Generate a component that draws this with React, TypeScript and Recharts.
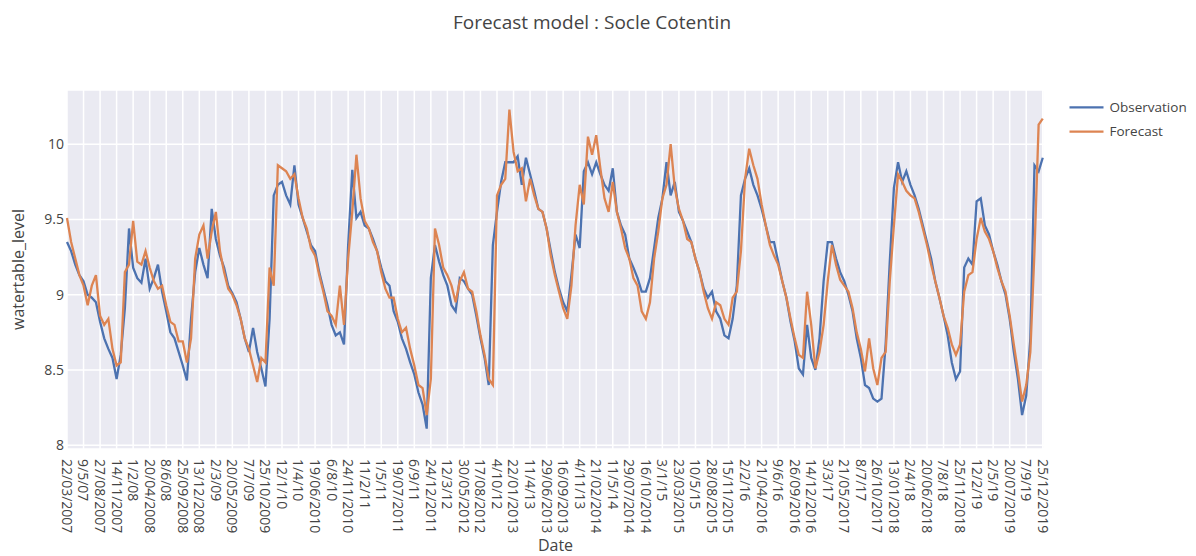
import React from 'react';
import { LineChart, Line, XAxis, YAxis, CartesianGrid, Legend, Label } from 'recharts';

const FONT = '"Open Sans", "Noto Sans", sans-serif';
const TXT = '#444444';
const BLUE = '#4C72B0';
const ORANGE = '#DD8452';

const tickLabels = [
  '22/03/2007', '9/5/07', '27/08/2007', '14/11/2007', '1/2/08', '20/04/2008', '8/6/08', '25/09/2008', '13/12/2008', '2/3/09',
  '20/05/2009', '7/7/09', '25/10/2009', '12/1/10', '1/4/10', '19/06/2010', '6/8/10', '24/11/2010', '11/2/11', '1/5/11',
  '19/07/2011', '6/9/11', '24/12/2011', '12/3/12', '30/05/2012', '17/08/2012', '4/10/12', '22/01/2013', '11/4/13', '29/06/2013',
  '16/09/2013', '4/11/13', '21/02/2014', '11/5/14', '29/07/2014', '16/10/2014', '3/1/15', '23/03/2015', '10/5/15', '28/08/2015',
  '15/11/2015', '2/2/16', '21/04/2016', '9/6/16', '26/09/2016', '14/12/2016', '3/3/17', '21/05/2017', '8/7/17', '26/10/2017',
  '13/01/2018', '2/4/18', '20/06/2018', '7/8/18', '25/11/2018', '12/2/19', '2/5/19', '20/07/2019', '7/9/19', '25/12/2019',
];

// number of samples between two labelled categories
const POINTS_PER_LABEL = 4;

const seriesNames = ['Observation', 'Forecast'];

const observation = [
  9.35, 9.29, 9.20, 9.13, 9.09, 9.00, 8.98, 8.95, 8.82, 8.71,
  8.64, 8.58, 8.44, 8.60, 8.91, 9.44, 9.18, 9.11, 9.08, 9.24,
  9.04, 9.11, 9.20, 9.02, 8.89, 8.75, 8.71, 8.62, 8.53, 8.43,
  8.84, 9.15, 9.31, 9.20, 9.11, 9.57, 9.37, 9.26, 9.18, 9.06,
  9.01, 8.95, 8.84, 8.71, 8.62, 8.78, 8.62, 8.51, 8.39, 8.84,
  9.66, 9.73, 9.75, 9.66, 9.60, 9.86, 9.60, 9.51, 9.42, 9.33,
  9.29, 9.15, 9.04, 8.93, 8.80, 8.73, 8.75, 8.67, 9.33, 9.83,
  9.51, 9.55, 9.46, 9.44, 9.37, 9.29, 9.18, 9.09, 9.06, 8.89,
  8.82, 8.71, 8.64, 8.55, 8.47, 8.35, 8.27, 8.11, 9.11, 9.33,
  9.22, 9.13, 9.06, 8.93, 8.89, 9.11, 9.09, 9.04, 9.00, 8.86,
  8.71, 8.58, 8.40, 9.33, 9.55, 9.75, 9.88, 9.88, 9.88, 9.92,
  9.73, 9.91, 9.80, 9.69, 9.57, 9.55, 9.44, 9.29, 9.15, 9.04,
  8.95, 8.89, 9.13, 9.40, 9.31, 9.82, 9.88, 9.80, 9.88, 9.80,
  9.73, 9.69, 9.84, 9.55, 9.46, 9.40, 9.24, 9.18, 9.11, 9.02,
  9.02, 9.11, 9.31, 9.51, 9.64, 9.88, 9.66, 9.75, 9.55, 9.49,
  9.42, 9.35, 9.24, 9.15, 9.04, 8.98, 9.02, 8.89, 8.84, 8.73,
  8.71, 8.84, 9.06, 9.66, 9.77, 9.84, 9.73, 9.66, 9.57, 9.46,
  9.35, 9.35, 9.22, 9.09, 8.98, 8.82, 8.69, 8.51, 8.47, 8.80,
  8.58, 8.50, 8.71, 9.09, 9.35, 9.35, 9.24, 9.15, 9.09, 9.00,
  8.89, 8.71, 8.58, 8.40, 8.38, 8.31, 8.29, 8.31, 8.67, 9.22,
  9.71, 9.88, 9.75, 9.82, 9.73, 9.66, 9.57, 9.46, 9.35, 9.24,
  9.09, 8.98, 8.86, 8.73, 8.55, 8.44, 8.49, 9.18, 9.24, 9.20,
  9.62, 9.64, 9.46, 9.40, 9.29, 9.20, 9.09, 9.00, 8.84, 8.62,
  8.44, 8.20, 8.33, 8.71, 9.86, 9.82, 9.91,
];

const forecast = [
  9.51, 9.35, 9.24, 9.13, 9.06, 8.93, 9.06, 9.13, 8.86, 8.80,
  8.84, 8.64, 8.53, 8.55, 9.15, 9.20, 9.49, 9.22, 9.20, 9.29,
  9.18, 9.09, 9.04, 9.06, 8.93, 8.82, 8.80, 8.69, 8.69, 8.55,
  8.71, 9.24, 9.40, 9.46, 9.24, 9.42, 9.55, 9.29, 9.15, 9.04,
  9.00, 8.93, 8.84, 8.71, 8.64, 8.53, 8.42, 8.58, 8.55, 9.18,
  9.06, 9.86, 9.84, 9.82, 9.77, 9.80, 9.64, 9.51, 9.44, 9.31,
  9.26, 9.13, 9.02, 8.89, 8.86, 8.80, 9.06, 8.80, 9.24, 9.55,
  9.93, 9.64, 9.49, 9.44, 9.35, 9.29, 9.15, 9.04, 8.98, 8.98,
  8.84, 8.75, 8.78, 8.64, 8.53, 8.40, 8.38, 8.20, 8.44, 9.44,
  9.33, 9.18, 9.13, 9.06, 8.95, 9.09, 9.15, 9.04, 9.02, 8.89,
  8.73, 8.60, 8.44, 8.40, 9.66, 9.73, 9.77, 10.23, 9.95, 9.82,
  9.84, 9.62, 9.77, 9.66, 9.57, 9.55, 9.44, 9.26, 9.13, 9.02,
  8.91, 8.84, 9.06, 9.46, 9.73, 9.60, 10.05, 9.93, 10.06, 9.84,
  9.64, 9.55, 9.75, 9.55, 9.44, 9.31, 9.24, 9.11, 9.06, 8.89,
  8.84, 8.95, 9.24, 9.42, 9.64, 9.73, 10.00, 9.71, 9.57, 9.49,
  9.37, 9.35, 9.24, 9.15, 9.02, 8.91, 8.84, 8.95, 8.93, 8.84,
  8.80, 8.98, 9.02, 9.29, 9.77, 9.97, 9.86, 9.77, 9.60, 9.46,
  9.33, 9.26, 9.20, 9.09, 8.98, 8.84, 8.71, 8.60, 8.58, 9.02,
  8.80, 8.51, 8.62, 8.80, 9.09, 9.33, 9.20, 9.10, 9.06, 9.02,
  8.91, 8.75, 8.64, 8.49, 8.71, 8.51, 8.40, 8.58, 8.62, 9.09,
  9.46, 9.80, 9.75, 9.69, 9.66, 9.64, 9.55, 9.44, 9.33, 9.20,
  9.09, 8.98, 8.86, 8.78, 8.67, 8.60, 8.67, 9.02, 9.13, 9.15,
  9.37, 9.51, 9.42, 9.37, 9.29, 9.18, 9.09, 9.02, 8.86, 8.67,
  8.49, 8.29, 8.40, 8.62, 9.29, 10.13, 10.17,
];

const yTicks = [8, 8.5, 9, 9.5, 10];

const data = observation.map((v, i) => ({ i, Observation: v, Forecast: forecast[i] }));
const xTicks = tickLabels.map((_, k) => k * POINTS_PER_LABEL);
const xMax = (tickLabels.length - 1) * POINTS_PER_LABEL + 0.3;

const XTick = (props: any) => {
  const { x, y, payload } = props;
  const label = tickLabels[Math.round(payload.value / POINTS_PER_LABEL)];
  return (
    <text
      x={0}
      y={0}
      transform={`translate(${x},${y}) rotate(90)`}
      textAnchor="start"
      dy="0.36em"
      fill={TXT}
      fontSize={14}
      fontFamily={FONT}
    >
      {label}
    </text>
  );
};

const LegendContent = (props: any) => {
  const payload = props.payload || [];
  const items = seriesNames
    .map((name) => payload.find((p: any) => p.value === name || p.dataKey === name))
    .filter(Boolean);
  return (
    <svg width={136} height={52} style={{ display: 'block' }}>
      {items.map((it: any, k: number) => (
        <g key={k}>
          <line x1={9.5} x2={43.5} y1={12.3 + k * 24.4} y2={12.3 + k * 24.4} stroke={it.color} strokeWidth={2.3} />
          <text x={49.5} y={12.3 + k * 24.4} dy="0.35em" fill={TXT} fontSize={13.5} fontFamily={FONT}>
            {it.value}
          </text>
        </g>
      ))}
    </svg>
  );
};

export default function App() {
  return (
    <div style={{ position: 'absolute', left: 0, top: 0, width: 1196, height: 556, background: '#fff' }}>
      <div
        style={{
          position: 'absolute',
          left: 0,
          top: 8,
          width: 1184,
          textAlign: 'center',
          fontFamily: FONT,
          fontSize: 19,
          color: TXT,
          lineHeight: '28px',
        }}
      >
        Forecast model : Socle Cotentin
      </div>
      <LineChart
        width={1196}
        height={556}
        data={data}
        margin={{ top: 90, right: 152, bottom: 17, left: 17 }}
      >
        <CartesianGrid fill="#EAEAF2" stroke="#ffffff" strokeWidth={1.5} />
        <XAxis
          type="number"
          dataKey="i"
          domain={[0, xMax]}
          ticks={xTicks}
          interval={0}
          height={90}
          tickSize={0}
          tickMargin={10}
          axisLine={false}
          tick={<XTick />}
        >
          <Label
            content={() => (
              <text x={555.5} y={551} textAnchor="middle" fill={TXT} fontSize={16} fontFamily={FONT}>
                Date
              </text>
            )}
          />
        </XAxis>
        <YAxis
          type="number"
          domain={[7.975, 10.36]}
          ticks={yTicks}
          width={50}
          tickSize={0}
          tickMargin={3}
          axisLine={false}
          tick={{ fill: TXT, fontSize: 14, fontFamily: FONT }}
          allowDataOverflow
        >
          <Label
            content={() => (
              <text
                x={0}
                y={0}
                transform="translate(24,269.5) rotate(-90)"
                textAnchor="middle"
                fill={TXT}
                fontSize={16}
                fontFamily={FONT}
              >
                watertable_level
              </text>
            )}
          />
        </YAxis>
        <Legend
          layout="vertical"
          align="center"
          verticalAlign="middle"
          content={<LegendContent />}
          wrapperStyle={{ left: 1060, top: 95, width: 136, height: 52 }}
        />
        <Line
          type="linear"
          dataKey="Observation"
          stroke={BLUE}
          strokeWidth={2.3}
          dot={false}
          isAnimationActive={false}
        />
        <Line
          type="linear"
          dataKey="Forecast"
          stroke={ORANGE}
          strokeWidth={2.3}
          dot={false}
          isAnimationActive={false}
        />
      </LineChart>
    </div>
  );
}
